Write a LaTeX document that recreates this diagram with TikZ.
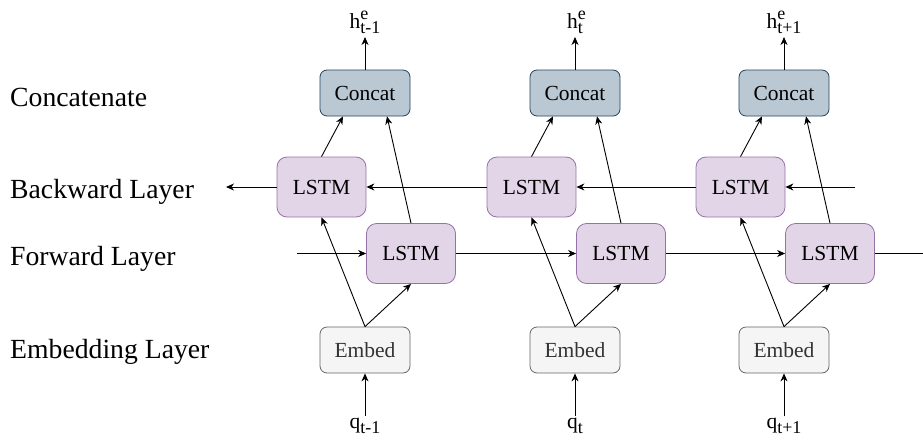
\documentclass[tikz,border=0pt]{standalone}
\usepackage{fontspec}
\setmainfont{Liberation Serif}
\usetikzlibrary{arrows.meta}
\definecolor{concatfill}{HTML}{BAC8D3}
\definecolor{concatdraw}{HTML}{23445D}
\definecolor{lstmfill}{HTML}{E1D5E7}
\definecolor{lstmdraw}{HTML}{9673A6}
\definecolor{embedfill}{HTML}{F5F5F5}
\definecolor{embeddraw}{HTML}{666666}
\definecolor{embedtext}{HTML}{333333}
\newcommand\myboxfont{\fontsize{21.5}{24}\selectfont}
\newcommand\mylabelfont{\fontsize{27.7}{32}\selectfont}
\newcommand\mysubfont{\fontsize{18}{20}\selectfont}
\newcommand\mysb[1]{\raisebox{-5pt}{\mysubfont #1}}
\newcommand\mysp[1]{\rlap{\raisebox{9.5pt}{\mysubfont #1}}}
\tikzset{
  concatbox/.style={draw=concatdraw, fill=concatfill, rounded corners=7pt,
    minimum width=90pt, minimum height=46pt, inner sep=0pt, line width=0.8pt, font=\myboxfont},
  lstmbox/.style={draw=lstmdraw, fill=lstmfill, rounded corners=10pt,
    minimum width=89pt, minimum height=60pt, inner sep=0pt, line width=0.8pt, font=\myboxfont},
  embedbox/.style={draw=embeddraw, fill=embedfill, rounded corners=7pt, text=embedtext,
    minimum width=90pt, minimum height=46pt, inner sep=0pt, line width=0.8pt, font=\myboxfont},
  lbl/.style={inner xsep=0pt, font=\myboxfont},
  sidelbl/.style={inner sep=0pt, anchor=base west, font=\mylabelfont},
  conn/.style={-{Stealth[length=8pt,width=7pt,inset=2.5pt]}, line width=0.9pt, black},
  plainline/.style={line width=0.9pt, black}
}
\begin{document}
\begin{tikzpicture}[x=1pt,y=-1pt]
\useasboundingbox (0,0) rectangle (923,439);

\node[sidelbl] (lc) at (10,106) {Concatenate};
\node[sidelbl] (lb) at (10,198) {Backward Layer};
\node[sidelbl] (lf) at (10,265) {Forward Layer};
\node[sidelbl] (le) at (10,358) {Embedding Layer};

\foreach \i/\x/\s in {1/365/t-1, 2/575/t, 3/784/t+1} {
  \node[concatbox] (c\i) at (\x,93) {Concat};
  \node[lstmbox] (b\i) at (\x-43.5,187) {LSTM};
  \node[lstmbox] (f\i) at (\x+46,253.5) {LSTM};
  \node[embedbox] (e\i) at (\x,350) {Embed};
  \node[lbl, anchor=south, inner ysep=3pt] (h\i) at (\x,37) {h\mysp{e}\mysb{\s}};
  \node[lbl, anchor=north, inner ysep=2pt] (q\i) at (\x,416) {q\mysb{\s}};
  \draw[conn] (q\i.north) -- (e\i.south);
  \draw[conn] (e\i.north) -- (b\i.south);
  \draw[conn] (e\i.north) -- (f\i.south);
  \draw[conn] (b\i.north) -- ([xshift=-22pt]c\i.south);
  \draw[conn] (f\i.north) -- ([xshift=22pt]c\i.south);
  \draw[conn] (c\i.north) -- (h\i.south);
}

\coordinate (bin) at (855,187);
\coordinate (bout) at (226,187);
\draw[conn] (bin) -- (b3.east);
\draw[conn] (b3.west) -- (b2.east);
\draw[conn] (b2.west) -- (b1.east);
\draw[conn] (b1.west) -- (bout);

\coordinate (fin) at (297,253.5);
\coordinate (fout) at (923,253.5);
\draw[conn] (fin) -- (f1.west);
\draw[conn] (f1.east) -- (f2.west);
\draw[conn] (f2.east) -- (f3.west);
\draw[plainline] (f3.east) -- (fout);
\end{tikzpicture}
\end{document}
